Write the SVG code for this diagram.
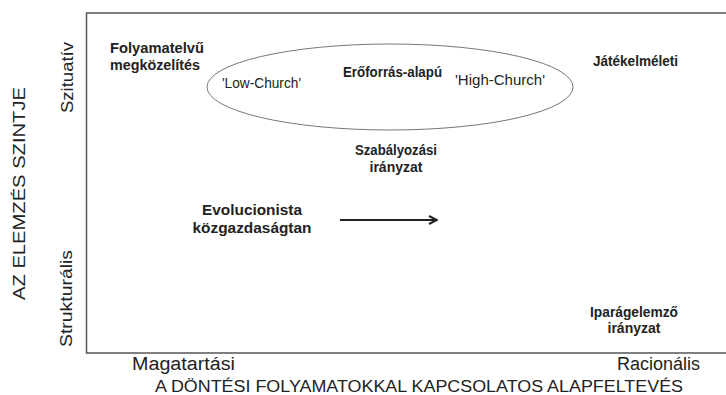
<svg xmlns="http://www.w3.org/2000/svg" width="726" height="395" viewBox="0 0 726 395">
<defs>
<style>
.b{font-family:"Liberation Sans",Arial,sans-serif;font-weight:bold;font-size:14px;fill:#222}
.r{font-family:"Liberation Sans",Arial,sans-serif;font-size:14px;fill:#222}
.ax{font-family:"Liberation Sans",Arial,sans-serif;font-size:16px;fill:#222}
.frame{stroke:#555;stroke-width:1.5;fill:none}
</style>
<marker id="ah" markerWidth="10" markerHeight="10" refX="9" refY="5" orient="auto" markerUnits="userSpaceOnUse">
<path d="M1,1 L9,5 L1,9" fill="none" stroke="#222" stroke-width="2"/>
</marker>
</defs>
<rect width="726" height="395" fill="#fff"/>
<g id="frame">
<path class="frame" d="M726,13 H86.5 V353 H726"/>
</g>
<g id="axis-labels">
<text class="ax" transform="translate(25,193.5) rotate(-90)" text-anchor="middle" textLength="213" lengthAdjust="spacingAndGlyphs">AZ ELEMZÉS SZINTJE</text>
<text class="ax" transform="translate(73,77.5) rotate(-90)" text-anchor="middle" style="font-size:17px" textLength="71" lengthAdjust="spacingAndGlyphs">Szituatív</text>
<text class="ax" transform="translate(72,298.5) rotate(-90)" text-anchor="middle" style="font-size:17px" textLength="97" lengthAdjust="spacingAndGlyphs">Strukturális</text>
<text class="ax" x="132" y="370" style="font-size:18px" textLength="103" lengthAdjust="spacingAndGlyphs">Magatartási</text>
<text class="ax" x="700" y="370" text-anchor="end" style="font-size:18px">Racionális</text>
<text class="ax" x="155" y="392" textLength="528" lengthAdjust="spacingAndGlyphs">A DÖNTÉSI FOLYAMATOKKAL KAPCSOLATOS ALAPFELTEVÉS</text>
</g>
<g id="ellipse-group">
<ellipse cx="390" cy="87" rx="183" ry="43" fill="none" stroke="#777" stroke-width="1"/>
<text class="r" x="222" y="88" textLength="79" lengthAdjust="spacingAndGlyphs">'Low-Church'</text>
<text class="b" x="392.5" y="77" text-anchor="middle" textLength="99" lengthAdjust="spacingAndGlyphs">Erőforrás-alapú</text>
<text class="r" x="455" y="85" textLength="90" lengthAdjust="spacingAndGlyphs">'High-Church'</text>
</g>
<g id="folyamatelvu">
<text class="b" x="110" y="52.5" style="font-size:14.5px" textLength="94" lengthAdjust="spacingAndGlyphs">Folyamatelvű</text>
<text class="b" x="110" y="70" style="font-size:14.5px" textLength="90" lengthAdjust="spacingAndGlyphs">megközelítés</text>
</g>
<g id="jatekelmeleti">
<text class="b" x="593" y="66" textLength="85" lengthAdjust="spacingAndGlyphs">Játékelméleti</text>
</g>
<g id="szabalyozasi">
<text class="b" x="396" y="155" text-anchor="middle" textLength="82" lengthAdjust="spacingAndGlyphs">Szabályozási</text>
<text class="b" x="396" y="172" text-anchor="middle">irányzat</text>
</g>
<g id="evolucionista">
<text class="b" x="252" y="215" text-anchor="middle" style="font-size:15.4px" textLength="100" lengthAdjust="spacingAndGlyphs">Evolucionista</text>
<text class="b" x="252" y="233" text-anchor="middle" style="font-size:15.4px">közgazdaságtan</text>
</g>
<g id="iparagelemzo">
<text class="b" x="634" y="317" text-anchor="middle" textLength="88" lengthAdjust="spacingAndGlyphs">Iparágelemző</text>
<text class="b" x="634" y="333" text-anchor="middle">irányzat</text>
</g>
<g id="connectors">
<line x1="340" y1="220" x2="437" y2="220" stroke="#222" stroke-width="2" marker-end="url(#ah)"/>
</g>
</svg>
